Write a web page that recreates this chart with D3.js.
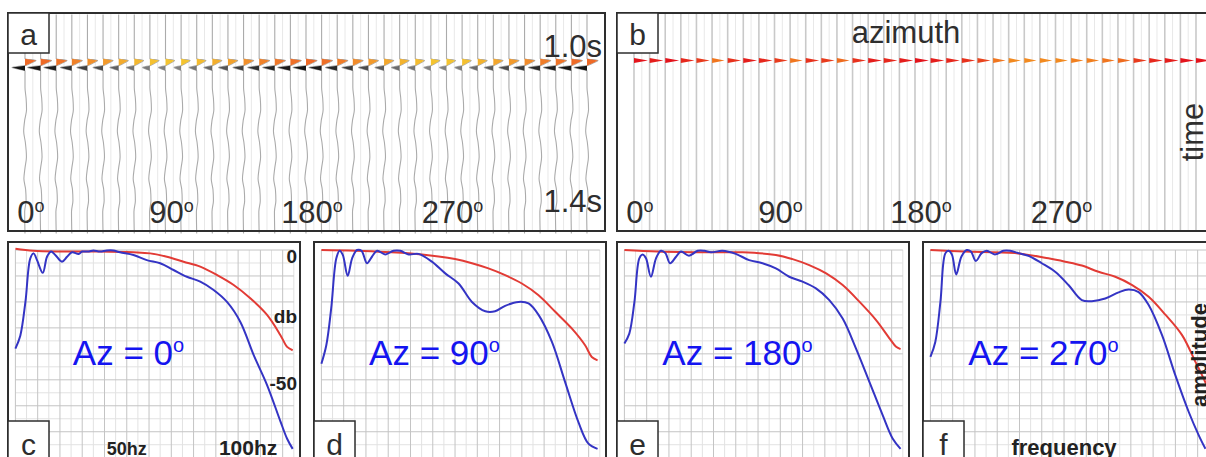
<!DOCTYPE html>
<html>
<head>
<meta charset="utf-8">
<script src="https://cdn.jsdelivr.net/npm/d3@7"></script>
<style>
  body { margin: 0; background: #fff; }
  svg { display: block; font-family: "Liberation Sans", Arial, sans-serif; }
</style>
</head>
<body>
<div id="chart"></div>
<script>
// ---------- data ----------
// azimuth of each gather trace (deg)
var azimuths = [0, 10, 20, 30, 40, 50, 60, 70, 80, 90, 100, 110, 120, 130, 140, 150, 160, 170, 180,
  190, 200, 210, 220, 230, 240, 250, 260, 270, 280, 290, 300, 310, 320, 330, 340, 350, 360];
var azTicks = [0, 90, 180, 270];

// peak amplitude of the 1.0s event, before correction (panel a)
var ampA = [1.0, 1.0, 0.98, 0.95, 0.92, 0.9, 0.86, 0.83, 0.81, 0.8, 0.8, 0.82, 0.85, 0.88, 0.92, 0.95,
  0.97, 0.99, 1.0, 0.99, 0.96, 0.93, 0.9, 0.87, 0.84, 0.82, 0.8, 0.8, 0.81, 0.84, 0.87, 0.9, 0.93,
  0.96, 0.98, 1.0, 1.0];
// peak amplitude after correction (panel b)
var ampB = [1.0, 0.99, 1.0, 0.98, 0.96, 0.9, 0.97, 0.99, 0.98, 0.96, 0.9, 0.97, 0.96, 0.91, 0.97, 0.99,
  0.98, 0.99, 1.0, 0.99, 0.98, 0.97, 0.95, 0.9, 0.88, 0.88, 0.88, 0.88, 0.89, 0.89, 0.9, 0.91, 0.96,
  0.98, 0.99, 1.0, 1.0];

// wavelet shape (ms from event, normalised amplitude)
var waveletT = [-19, -14, -7, 0, 5, 14];
var waveletA = [0, 1, 0.55, 0, -1, 0];
var flagT = [-7, 0, 7];
var flagA = [0, 1, 0];
// weak background reflections below the event (s, normalised amplitude)
var noiseT = [1.07, 1.10, 1.13, 1.16, 1.19, 1.22, 1.26, 1.29, 1.32, 1.35, 1.38, 1.41];
var noiseA = [0, 0.1, 0.14, -0.03, -0.12, 0.03, 0.13, 0, -0.1, 0.06, 0.1, -0.03];

// spectra: [frequency Hz, dB]
var panelAz = [0, 90, 180, 270];
var panelLetters = ["c", "d", "e", "f"];
var blueC = [[0, -38], [2.2, -33], [4.5, -20], [6.7, -3.2], [8.2, -1.3], [9.7, -3.9], [12.3, -8.8],
  [14.2, -2.6], [16, -0.6], [17.9, -1.9], [20.9, -4.5], [23.2, -2.6], [25.4, -0.9], [28.4, -1.5],
  [30, -0.6], [33, -0.6], [35, -0.2], [38, -0.6], [41, -0.2], [44, -0.2], [47, -0.9], [53, -1.9],
  [59, -3.9], [65, -5.1], [71, -7.7], [77, -10.3], [83, -12.2], [89, -15.4], [95, -20], [101, -27.7],
  [107, -40.5], [113, -52], [119, -66], [122, -72.7], [124.5, -76.6]];
var redC = [[0, 0.5], [8, -0.3], [20, -0.6], [38, -0.6], [53, -0.9], [60.5, -1.3], [68, -2.6],
  [75.5, -4.5], [83, -6.4], [90.6, -9.7], [98, -13.5], [105.6, -18.7], [113, -25], [119, -32.8],
  [122, -37.3], [124.5, -38.6]];
var blueD = [[0, -43.8], [2.2, -36.7], [4.4, -22.5], [6.7, -3.2], [8.2, -0.3], [9.6, -1.9], [11.8, -9.9],
  [13.8, -3.2], [16, 0], [18, -0.3], [20.5, -5.1], [22.7, -2.6], [25, -0.3], [28.7, -1.7], [32.4, -0.3],
  [35.4, -0.3], [39.2, -1.7], [43.6, -1.5], [49.6, -4.5], [55.6, -9], [61.6, -12.9], [67.6, -20],
  [73.6, -23.6], [78, -23.6], [82.5, -21.5], [88.5, -20], [93, -20.6], [97.5, -25], [103.5, -35.4],
  [109.4, -50.8], [115.4, -66.3], [119.9, -74.6], [124, -76.6]];
var redD = [[0, 0], [15.3, -0.3], [37.7, -1.2], [52.6, -2.5], [60, -3.5], [67.6, -5.1], [75, -7.1],
  [82.5, -9.7], [90, -12.9], [97.5, -17.4], [105, -23.8], [112.4, -30.2], [118.4, -36.7],
  [121.4, -41.2], [124, -42.5]];
var blueE = [[0, -36], [2.2, -32.2], [4.5, -20], [6.7, -3.2], [8.2, -1.7], [9.7, -3.2], [11.9, -10.3],
  [14.2, -3.2], [16.4, -0.3], [18.4, -1.2], [20.5, -5.1], [23.2, -2.6], [25.4, -0.6], [29, -2.2],
  [32.9, -0.3], [35.9, -0.3], [38.9, -0.9], [44, -0.3], [50, -1.5], [56, -3.9], [62, -5.1], [68, -7.1],
  [74, -10.3], [80, -12.2], [86, -14.8], [92, -19.3], [98, -26.4], [104, -38], [110, -50.8],
  [116, -63.7], [120.5, -72.7], [124, -76.6]];
var redE = [[0, 0], [15, -0.6], [38, -0.9], [53, -0.9], [68, -1.9], [75.5, -3.5], [83, -5.8],
  [90.6, -9], [98, -13.5], [105.6, -20], [113, -27], [119, -34], [122, -37.3], [124, -38.2]];
var blueF = [[0, -41.2], [2.2, -35.4], [4.5, -20], [6.7, -1.3], [8.2, -0.3], [9.7, -1.9], [11.6, -9.4],
  [13.9, -2.6], [16.3, 0], [18.2, -0.6], [20.4, -4.2], [23, -1.2], [25.3, -0.3], [29, -1.7],
  [32.8, -0.3], [35.8, -0.3], [39.5, -1.2], [44, -2.2], [50, -5.1], [56, -8.4], [62, -13.5],
  [68, -19.3], [72.5, -19.7], [78.5, -18.7], [84.5, -16.3], [89, -15.2], [93.5, -16.2], [98, -21.2],
  [104, -32.8], [110, -48.3], [116, -62.4], [120.5, -71.4], [123.5, -76.6]];
var redF = [[0, 0], [15, -0.6], [38, -1.2], [53, -3.2], [60.5, -4.5], [68, -6], [75.5, -8.4],
  [83, -10.3], [90.6, -13.5], [98, -18], [105.6, -25], [113, -32.8], [119, -43.1], [122, -48.3],
  [124, -52]];

// ---------- layout ----------
var width = 1206;
var height = 457;

var svg = d3.select("#chart")
  .append("svg")
  .attr("width", width)
  .attr("height", height);

var ink = "#2e2e2e";
var tScale = d3.scaleLinear().domain([1.0, 1.4]).range([62, 208]);

function supLabel(sel, main, size, supSize, supDy) {
  sel.append("tspan").attr("font-size", size).text(main);
  sel.append("tspan").attr("font-size", supSize).attr("dy", supDy).text("o");
}

function letterBox(x, y, letter, baseline) {
  svg.append("rect")
    .attr("x", x).attr("y", y).attr("width", 41).attr("height", 40)
    .attr("fill", "#fff").attr("stroke", ink).attr("stroke-width", 1.5);
  svg.append("text")
    .attr("x", x + 20.5).attr("y", baseline)
    .attr("text-anchor", "middle").attr("font-size", 30).attr("fill", ink)
    .text(letter);
}

////////// Seismic gathers (a, b) //////////
function seismic(left, traceX0, amps, corrected) {
  var xAz = d3.scaleLinear().domain([0, 360]).range([traceX0, traceX0 + 562]);
  var g = svg.append("g");

  // faint in-between lines
  g.selectAll("line.mid").data(azimuths.slice(0, -1)).enter()
    .append("line")
    .attr("x1", function(d) { return xAz(d + 5); })
    .attr("x2", function(d) { return xAz(d + 5); })
    .attr("y1", 14).attr("y2", 230)
    .attr("stroke", "#e8e8e8").attr("stroke-width", 1);

  var traces = g.selectAll("g.trace").data(azimuths).enter()
    .append("g")
    .attr("transform", function(d) { return "translate(" + xAz(d) + ",0)"; });

  if (!corrected) {
    var peakPx = d3.scaleLinear().domain([0.8, 1]).range([9, 11]);
    var troughPx = d3.scaleLinear().domain([0.8, 1]).range([7, 13]);
    var peakColor = d3.scaleLinear().domain([0.8, 0.9, 1]).range(["#f4c430", "#f29a2c", "#ee6a27"]);
    var troughColor = d3.scaleLinear().domain([0.8, 1]).range(["#808080", "#151515"]);
    var tEvent = 1.01;

    var wig = d3.line()
      .x(function(p) { return p[1]; })
      .y(function(p) { return tScale(p[0]); })
      .curve(d3.curveMonotoneY);
    var lobe = d3.line()
      .x(function(p) { return p[1]; })
      .y(function(p) { return tScale(p[0]); });

    traces.each(function(d, i) {
      var a = amps[i];
      var pts = waveletT.map(function(t, k) {
        var v = waveletA[k];
        return [tEvent + t / 1000, v >= 0 ? v * peakPx(a) : v * troughPx(a)];
      });
      var noise = noiseT.map(function(t, k) { return [t, noiseA[k] * 11]; });
      var all = [[0.87, 0]].concat(pts, noise, [[1.47, 0]]);
      var tr = d3.select(this);
      tr.append("path").attr("d", wig(all))
        .attr("fill", "none").attr("stroke", "#ababab").attr("stroke-width", 1.1);
      tr.append("path").attr("d", lobe(pts.slice(0, 4)) + "Z").attr("fill", peakColor(a));
      tr.append("path").attr("d", lobe(pts.slice(3)) + "Z").attr("fill", troughColor(a));
    });
  } else {
    var flagColor = d3.scaleLinear().domain([0.88, 1]).range(["#f28a20", "#e3141c"]);
    var tFlag = 0.996;
    var flagLine = d3.line()
      .x(function(p) { return p[1]; })
      .y(function(p) { return tScale(p[0]); });
    traces.append("line")
      .attr("x1", 0).attr("x2", 0).attr("y1", 14).attr("y2", 230)
      .attr("stroke", "#c9c9c9").attr("stroke-width", 1.6);
    traces.append("path")
      .attr("d", function(d, i) {
        var pts = flagT.map(function(t, k) { return [tFlag + t / 1000, flagA[k] * 14 * amps[i]]; });
        return flagLine(pts) + "Z";
      })
      .attr("fill", function(d, i) { return flagColor(amps[i]); });
  }

  // azimuth labels
  g.selectAll("text.az").data(azTicks).enter()
    .append("text")
    .attr("x", function(d) { return xAz(d) + 6; })
    .attr("y", 223)
    .attr("text-anchor", "middle")
    .attr("fill", ink)
    .each(function(d) { supLabel(d3.select(this), d, 31, 18, -11); });

  svg.append("rect")
    .attr("x", left).attr("y", 13).attr("width", 597).attr("height", 218)
    .attr("fill", "none").attr("stroke", ink).attr("stroke-width", 2);
  return g;
}

var gA = seismic(8, 25, ampA, false);
gA.append("text").attr("x", 602).attr("y", 57).attr("text-anchor", "end")
  .attr("font-size", 31).attr("fill", ink).text("1.0s");
gA.append("text").attr("x", 602).attr("y", 212).attr("text-anchor", "end")
  .attr("font-size", 31).attr("fill", ink).text("1.4s");
letterBox(8, 13, "a", 45);

var gB = seismic(617, 634, ampB, true);
gB.append("text").attr("x", 906).attr("y", 43).attr("text-anchor", "middle")
  .attr("font-size", 31).attr("fill", ink).text("azimuth");
gB.append("text").attr("transform", "translate(1203,132) rotate(-90)")
  .attr("text-anchor", "middle").attr("font-size", 31).attr("fill", ink).text("time");
letterBox(617, 13, "b", 45);

////////// Spectra (c - f) //////////
var specLeft = [8, 314, 617, 923];
var spectra = [
  { blue: blueC, red: redC },
  { blue: blueD, red: redD },
  { blue: blueE, red: redE },
  { blue: blueF, red: redF }
];
var yDb = d3.scaleLinear().domain([0, -80]).range([250, 457.7]);

spectra.forEach(function(s, i) {
  var L = specLeft[i];
  var xHz = d3.scaleLinear().domain([0, 125]).range([L + 7.4, L + 7.4 + 278.4]);
  var clipId = "clip" + i;
  svg.append("clipPath").attr("id", clipId)
    .append("rect").attr("x", L).attr("y", 242).attr("width", 292).attr("height", 220);
  var g = svg.append("g").attr("clip-path", "url(#" + clipId + ")");

  // grid
  var minorX = d3.range(5, 126, 10), majorX = d3.range(0, 126, 10);
  var minorY = d3.range(-5, -81, -10), majorY = d3.range(0, -81, -10);
  g.selectAll("line.mx").data(minorX).enter().append("line")
    .attr("x1", xHz).attr("x2", xHz).attr("y1", yDb(0)).attr("y2", 460)
    .attr("stroke", "#e2e2e2");
  g.selectAll("line.my").data(minorY).enter().append("line")
    .attr("x1", xHz(0)).attr("x2", xHz(125)).attr("y1", yDb).attr("y2", yDb)
    .attr("stroke", "#e2e2e2");
  g.selectAll("line.Mx").data(majorX).enter().append("line")
    .attr("x1", xHz).attr("x2", xHz).attr("y1", yDb(0)).attr("y2", 460)
    .attr("stroke", "#c4c4c4");
  g.selectAll("line.My").data(majorY).enter().append("line")
    .attr("x1", xHz(0)).attr("x2", xHz(125)).attr("y1", yDb).attr("y2", yDb)
    .attr("stroke", "#c4c4c4");

  var line = d3.line()
    .x(function(p) { return xHz(p[0]); })
    .y(function(p) { return yDb(p[1]); })
    .curve(d3.curveCatmullRom.alpha(0.5));

  g.append("path").attr("d", line(s.red))
    .attr("fill", "none").attr("stroke", "#e23b35").attr("stroke-width", 2);
  g.append("path").attr("d", line(s.blue))
    .attr("fill", "none").attr("stroke", "#3434c4").attr("stroke-width", 2);

  g.append("text")
    .attr("x", L + 120.5).attr("y", 365)
    .attr("text-anchor", "middle").attr("fill", "#1414f0")
    .each(function() { supLabel(d3.select(this), "Az = " + panelAz[i], 35, 20, -13); });

  if (i === 0) {
    var bold = [["0", 263], ["db", 323], ["-50", 390]];
    bold.forEach(function(b) {
      g.append("text").attr("x", L + 289).attr("y", b[1]).attr("text-anchor", "end")
        .attr("font-size", 19).attr("font-weight", "bold").attr("fill", "#222").text(b[0]);
    });
    g.append("text").attr("x", xHz(50)).attr("y", 455).attr("text-anchor", "middle")
      .attr("font-size", 18).attr("font-weight", "bold").attr("fill", "#222").text("50hz");
    g.append("text").attr("x", xHz(100) + 10).attr("y", 455).attr("text-anchor", "middle")
      .attr("font-size", 21).attr("font-weight", "bold").attr("fill", "#222").text("100hz");
  }
  if (i === 3) {
    g.append("text").attr("x", xHz(60)).attr("y", 455).attr("text-anchor", "middle")
      .attr("font-size", 22).attr("font-weight", "bold").attr("fill", "#222").text("frequency");
    g.append("text").attr("transform", "translate(1207,355) rotate(-90)")
      .attr("text-anchor", "middle").attr("font-size", 22).attr("font-weight", "bold")
      .attr("fill", "#222").text("amplitude");
  }

  svg.append("rect")
    .attr("x", L).attr("y", 242).attr("width", 292).attr("height", 230)
    .attr("fill", "none").attr("stroke", ink).attr("stroke-width", 2);
  letterBox(L, 421, panelLetters[i], 455);
});
</script>
</body>
</html>
